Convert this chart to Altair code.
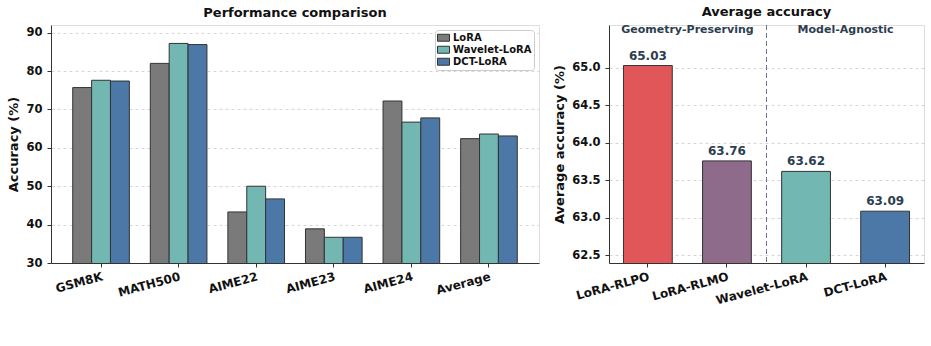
import altair as alt
import pandas as pd

# ---- data ----
benchmarks = ["GSM8K", "MATH500", "AIME22", "AIME23", "AIME24", "Average"]
methods = ["LoRA", "Wavelet-LoRA", "DCT-LoRA"]
lora = [75.7, 82.0, 43.3, 38.9, 72.2, 62.4]
wavelet = [77.6, 87.2, 50.0, 36.7, 66.7, 63.6]
dct = [77.4, 86.9, 46.7, 36.7, 67.8, 63.1]

avg_methods = ["LoRA-RLPO", "LoRA-RLMO", "Wavelet-LoRA", "DCT-LoRA"]
avg_values = [65.03, 63.76, 63.62, 63.09]
avg_labels = ["65.03", "63.76", "63.62", "63.09"]
groups = ["Geometry-Preserving", "Model-Agnostic"]
group_first = [0, 2]   # index of first method in each group (each group has 2)
group_size = 2

method_colors = ["#7a7a7a", "#72b7b2", "#4c78a8"]
avg_colors = ["#e15759", "#8e6b8a", "#72b7b2", "#4c78a8"]

FONT = "DejaVu Sans"
DARK = "#2c3e50"
TICK_FS = 11.5
TITLE_FS = 13

rows = []
for i, b in enumerate(benchmarks):
    for m, vals in zip(methods, [lora, wavelet, dct]):
        rows.append({"benchmark": b, "method": m, "acc": vals[i]})
df = pd.DataFrame(rows)

df2 = pd.DataFrame({"model": avg_methods, "acc": avg_values, "label": avg_labels})
df_groups = pd.DataFrame({"group": groups,
                          "pos": [g + (group_size - 1) / 2 for g in group_first]})
df_div = pd.DataFrame({"pos": [group_first[1] - 0.5]})


def x_axis():
    return alt.Axis(labelAngle=345, labelAlign="right", labelBaseline="top",
                    labelFontSize=12, labelFontWeight="bold", labelFont=FONT,
                    labelColor="#111111", labelPadding=4,
                    tickSize=4, tickColor="#333333", domainColor="#333333")


def y_axis(values, fmt):
    return alt.Axis(values=values, format=fmt,
                    labelFontSize=TICK_FS, labelFontWeight="bold", labelFont=FONT,
                    labelColor="#111111", labelPadding=5,
                    titleFontSize=13, titleFontWeight="bold", titleFont=FONT,
                    titleColor="#111111", titlePadding=5,
                    tickSize=4, tickColor="#333333", domainColor="#333333",
                    grid=True, gridDash=[3, 3], gridColor="#cccccc", gridWidth=0.8)


# ---- left panel ----
P1, O1 = 0.27, 0.28
left = alt.Chart(df).mark_bar(stroke="#333333", strokeWidth=1, clip=True).encode(
    x=alt.X("benchmark:N", sort=benchmarks, title=None,
            scale=alt.Scale(paddingInner=P1, paddingOuter=O1), axis=x_axis()),
    xOffset=alt.XOffset("method:N", sort=methods),
    y=alt.Y("acc:Q", title="Accuracy (%)",
            scale=alt.Scale(domain=[30, 92], zero=False, nice=False),
            axis=y_axis([30, 40, 50, 60, 70, 80, 90], "d")),
    color=alt.Color("method:N", sort=methods,
                    scale=alt.Scale(domain=methods, range=method_colors),
                    legend=alt.Legend(title=None, orient="top-right", offset=5,
                                      symbolType="M-1,-0.58H1V0.58H-1Z", symbolSize=144,
                                      symbolStrokeColor="#333333", symbolStrokeWidth=1,
                                      labelFont=FONT, labelFontSize=10, labelFontWeight="bold",
                                      labelColor="#111111", rowPadding=0, clipHeight=11.5,
                                      padding=2, strokeColor="#cccccc", fillColor="white",
                                      cornerRadius=3, labelOffset=3)),
).properties(
    width=488, height=238,
    title=alt.TitleParams("Performance comparison", fontSize=TITLE_FS, fontWeight="bold",
                          font=FONT, color="#111111", offset=5),
)

# ---- right panel ----
P2, O2 = 0.383, 0.183
n2 = len(avg_methods)
lo = -(O2 + (1 - P2) / 2)
hi = (n2 - 1) + O2 + (1 - P2) / 2
xscale2 = alt.Scale(domain=avg_methods, paddingInner=P2, paddingOuter=O2)
xnum = alt.Scale(domain=[lo, hi], nice=False, zero=False)

bars2 = alt.Chart(df2).mark_bar(stroke="#333333", strokeWidth=1, clip=True).encode(
    x=alt.X("model:N", sort=avg_methods, title=None, scale=xscale2, axis=x_axis()),
    y=alt.Y("acc:Q", title="Average accuracy (%)",
            scale=alt.Scale(domain=[62.4, 65.57], zero=False, nice=False),
            axis=y_axis([62.5, 63.0, 63.5, 64.0, 64.5, 65.0], ".1f")),
    color=alt.Color("model:N", sort=avg_methods,
                    scale=alt.Scale(domain=avg_methods, range=avg_colors), legend=None),
)
labels2 = alt.Chart(df2).mark_text(font=FONT, fontSize=12, fontWeight="bold",
                                    color=DARK, dy=-6, baseline="alphabetic").encode(
    x=alt.X("model:N", sort=avg_methods, scale=xscale2),
    y=alt.Y("acc:Q"),
    text="label:N",
)
annot_text = alt.Chart(df_groups).mark_text(font=FONT, fontSize=11, fontWeight="bold",
                                             color=DARK, baseline="middle").encode(
    x=alt.X("pos:Q", scale=xnum, axis=None),
    y=alt.value(5),
    text="group:N",
)
divider = alt.Chart(df_div).mark_rule(color="#6b7394", strokeDash=[5, 3], strokeWidth=1).encode(
    x=alt.X("pos:Q", scale=xnum, axis=None),
    y=alt.value(0),
    y2=alt.value(238),
)
main2 = alt.layer(bars2, labels2)
annot = alt.layer(divider, annot_text)
right = alt.layer(main2, annot).resolve_scale(x="independent").properties(
    width=315, height=238,
    title=alt.TitleParams("Average accuracy", fontSize=TITLE_FS, fontWeight="bold",
                          font=FONT, color="#111111", offset=5),
)

chart = alt.hconcat(left, right, spacing=13).resolve_scale(color="independent").properties(
    padding={"left": 7, "top": 5, "right": 2, "bottom": 5}
).configure_view(stroke=None).configure(background="white")

chart.save("out.html", embed_options={"renderer": "svg", "actions": False})
